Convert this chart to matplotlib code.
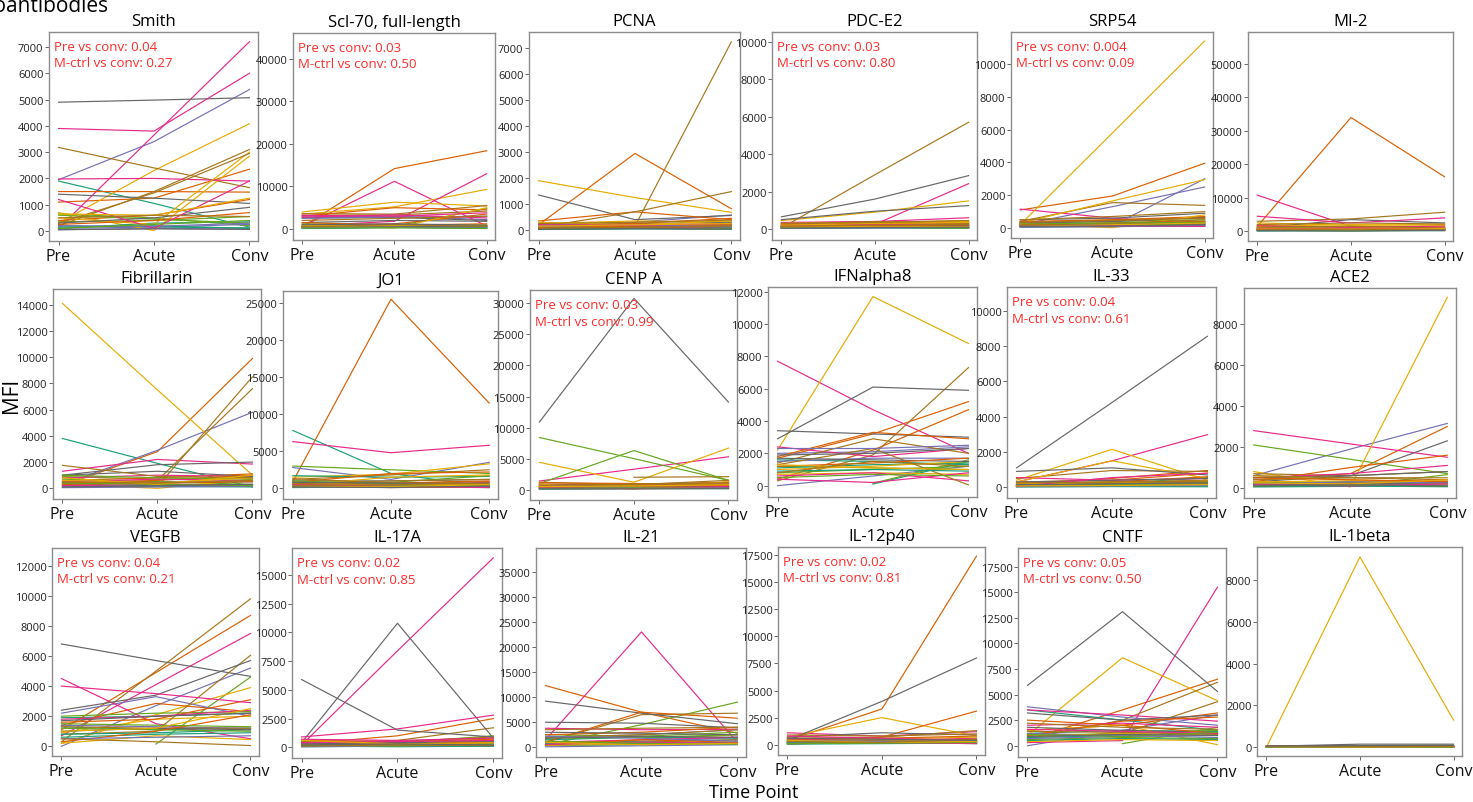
import numpy as np
import matplotlib.pyplot as plt

plt.rcParams['font.family'] = ['Open Sans', 'DejaVu Sans']

time_points = ['Pre', 'Acute', 'Conv']
nan = None

# one (Pre, Acute, Conv) triple per subject; rows of 8 follow the Dark2 order
smith = [
    (1900, 1050, 150), (1100, 1250, 2350), (1950, 3400, 5380), (100, 3650, 7200),
    (650, 500, 200), (300, 2300, 4080), (3180, 2400, 1650), (4900, 4980, 5070),
    (200, 150, 120), (1500, 1500, 1480), (100, 150, 250), (3900, 3800, 6000),
    (350, 400, 550), (700, 20, 2850), (200, 1500, 3100), (1400, 1250, 1050),
    (100, 300, 350), (400, 600, 1200), (50, 100, 80), (1980, 2000, 1900),
    (600, 450, 300), (500, 250, 3000), (300, 1450, 2950), (300, 500, 900),
    (150, 200, 100), (250, 400, 700), (200, 180, 300), (1200, 100, 1900),
    (100, 250, 400), (650, 600, 1250), (500, 600, 550), (50, 80, 60),
]
scl70 = [
    (300, 500, 400), (500, 14200, 18400), (2800, 3000, 2200), (600, 11200, 700),
    (400, 600, 4800), (3500, 5200, 9300), (3200, 3300, 4200), (2600, 2700, 2000),
    (600, 800, 600), (900, 1200, 3500), (2500, 2800, 3000), (700, 1800, 13000),
    (1200, 1000, 800), (4000, 6300, 5400), (3600, 3500, 5500), (1500, 2000, 1800),
    (200, 400, 300), (3000, 5000, 4500), (500, 700, 600), (2800, 3300, 2600),
    (800, 500, 400), (1000, 200, 5000), (2000, 2500, 3000), (400, 600, 500),
    (100, 300, 200), (1500, 900, 1200), (300, 400, 200), (3200, 3000, 3800),
    (200, 300, 100), (700, 800, 1000), (500, 1000, 600), (1000, 1200, 900),
]
pcna = [
    (50, 80, 60), (200, 2950, 820), (100, 300, 580), (30, 50, 40),
    (80, 100, 120), (1900, 1250, 680), (100, 150, 7250), (1350, 400, 560),
    (100, 120, 150), (350, 700, 400), (50, 80, 100), (150, 100, 200),
    (40, 60, 80), (250, 350, 300), (100, 700, 1480), (200, 250, 300),
    (60, 100, 80), (150, 250, 450), (200, 150, 250), (80, 120, 60),
    (120, 150, 200), (300, 200, 350), (250, 300, 380), (100, 120, 150),
    (20, 40, 30), (100, 150, 200), (150, 200, 120), (200, 180, 250),
    (60, 80, 50), (150, 200, 250), (50, 100, 150), (30, 60, 40),
]
pdc_e2 = [
    (100, 150, 100), (300, 400, 350), (200, 250, 300), (250, 250, 2420),
    (100, 200, 150), (450, 900, 1500), (50, 2900, 5700), (650, 1600, 2850),
    (50, 100, 80), (150, 350, 450), (100, 150, 200), (350, 400, 600),
    (200, 150, 250), (300, 350, 400), (250, 400, 300), (500, 950, 1250),
    (150, 120, 50), (200, 300, 250), (80, 100, 120), (150, 250, 200),
    (50, 80, 60), (200, 300, 350), (300, 350, 450), (100, 150, 200),
    (30, 50, 40), (100, 200, 150), (50, 60, 80), (120, 150, 100),
    (80, 100, 50), (100, 150, 120), (150, 200, 250), (50, 80, 100),
]
srp54 = [
    (100, 150, 200), (1100, 1950, 3950), (200, 1300, 2500), (1150, 600, 250),
    (300, 400, 500), (200, 5800, 11400), (400, 1550, 1380), (500, 600, 900),
    (200, 250, 300), (300, 500, 600), (100, 150, 3000), (200, 300, 250),
    (150, 200, 400), (300, 1650, 2950), (500, 700, 1000), (300, 400, 650),
    (50, 100, 150), (400, 500, 700), (150, 200, 300), (300, 250, 200),
    (100, 150, 250), (250, 20, 800), (200, 300, 500), (150, 200, 400),
    (80, 120, 100), (200, 300, 400), (50, 80, 150), (100, 150, 100),
    (250, 300, 350), (100, 200, 300), (350, 450, 600), (100, 120, 200),
]
mi2 = [
    (500, 300, 400), (1500, 34000, 16300), (800, 600, 500), (10800, 1500, 1000),
    (1200, 1000, 800), (2500, 1800, 2000), (3000, 3700, 5700), (1000, 3500, 2500),
    (300, 200, 300), (1800, 1200, 1500), (400, 500, 300), (4500, 2500, 4000),
    (700, 600, 500), (1500, 2000, 1800), (2000, 2500, 2200), (600, 700, 800),
    (200, 400, 300), (900, 700, 1000), (300, 200, 400), (1600, 1200, 1500),
    (500, 400, 600), (1000, 800, 1200), (1200, 1500, 1000), (400, 300, 500),
    (100, 150, 200), (600, 500, 700), (200, 300, 200), (800, 600, 900),
    (300, 200, 300), (700, 500, 800), (500, 600, 400), (200, 100, 300),
]
fibrillarin = [
    (3800, 1900, 100), (200, 2800, 9900), (300, 2900, 5800), (1300, 2200, 1850),
    (900, 700, 800), (14100, 7500, 1000), (100, 150, 8500), (1000, 1800, 2000),
    (500, 300, 200), (600, 800, 1100), (400, 500, 600), (800, 1000, 900),
    (700, 500, 300), (300, 0, 700), (100, 600, 7600), (1000, 1300, 900),
    (200, 150, 100), (400, 600, 1000), (150, 200, 300), (500, 700, 600),
    (1000, 800, 700), (600, 400, 800), (1750, 900, 800), (300, 400, 500),
    (100, 200, 150), (300, 400, 500), (50, 100, 150), (200, 300, 250),
    (400, 300, 200), (800, 300, 1000), (500, 400, 600), (100, 200, 300),
]
jo1 = [
    (7800, 2000, 200), (900, 25500, 11500), (2800, 1200, 3500), (6300, 4800, 5800),
    (3000, 2500, 2000), (1500, 1900, 3300), (1200, 1800, 2500), (1000, 1000, 1200),
    (1700, 1500, 1600), (800, 2000, 2200), (500, 600, 400), (300, 500, 800),
    (600, 800, 1700), (400, 1500, 1800), (1300, 700, 900), (400, 600, 300),
    (200, 400, 300), (500, 700, 1000), (300, 200, 500), (200, 400, 300),
    (1000, 600, 400), (700, 400, 600), (600, 1000, 1200), (800, 700, 600),
    (100, 200, 100), (300, 100, 200), (150, 300, 250), (500, 300, 100),
    (200, 300, 400), (300, 200, 500), (400, 500, 700), (200, 100, 300),
]
cenp_a = [
    (500, 400, 600), (800, 600, 1000), (300, 200, 400), (1400, 3300, 5300),
    (8400, 5000, 1500), (4400, 1200, 6700), (nan, 2000, 2100), (10900, 30800, 14100),
    (300, 500, 400), (600, 900, 1200), (500, 300, 600), (900, 700, 1100),
    (1000, 6300, 1500), (700, 500, 900), (1200, 800, 1500), (800, 600, 700),
    (200, 300, 200), (1100, 1000, 800), (100, 200, 300), (600, 500, 400),
    (400, 300, 500), (900, 100, 1300), (500, 700, 900), (300, 400, 500),
    (100, 200, 150), (400, 500, 700), (600, 400, 300), (300, 200, 500),
    (200, 300, 200), (500, 600, 800), (700, 900, 1100), (150, 100, 200),
]
ifnalpha8 = [
    (nan, 100, 1500), (1700, 3200, 5200), (0, 600, 1200), (7700, 4700, 2000),
    (1200, 1100, 1000), (2200, 11700, 8800), (300, 1900, 7300), (2900, 6100, 5900),
    (1100, 1300, 1400), (400, 2200, 4700), (2000, 2100, 2400), (2400, 1800, 2300),
    (nan, 150, 1600), (700, 800, 700), (1400, 2900, 2000), (3400, 3200, 3000),
    (1600, 1500, 1300), (1800, 3300, 2900), (1500, 1700, 1700), (600, 800, 300),
    (800, 1000, 1200), (1000, 1200, 1500), (1300, 2300, 50), (1700, 1600, 1500),
    (900, 1000, 900), (1200, 1400, 1700), (2300, 2300, 2500), (400, 200, 800),
    (500, 700, 600), (1300, 1100, 1000), (800, 1500, 1200), (1900, 2000, 2300),
]
il33 = [
    (100, 200, 550), (200, 500, 950), (50, 100, 200), (300, 1500, 2980),
    (150, 200, 300), (400, 2150, 400), (500, 950, 900), (1100, 4800, 8550),
    (50, 100, 150), (300, 400, 800), (100, 150, 100), (550, 400, 500),
    (200, 300, 250), (300, 1500, 500), (200, 300, 400), (900, 1100, 700),
    (80, 120, 100), (150, 300, 600), (30, 50, 80), (100, 200, 150),
    (50, 100, 80), (200, 250, 350), (100, 200, 300), (300, 400, 500),
    (20, 40, 30), (100, 150, 200), (60, 80, 100), (50, 550, 800),
    (120, 150, 200), (80, 100, 150), (250, 300, 350), (150, 200, 250),
]
ace2 = [
    (100, 150, 200), (400, 700, 3000), (600, 1900, 3150), (2800, 2150, 1500),
    (2100, 1400, 700), (800, 50, 9300), (700, 600, 800), (300, 600, 2300),
    (200, 250, 300), (300, 1000, 1600), (100, 150, 100), (500, 700, 1100),
    (150, 100, 650), (600, 400, 300), (400, 500, 400), (500, 600, 800),
    (50, 80, 100), (200, 300, 400), (300, 200, 150), (100, 200, 300),
    (250, 300, 200), (300, 350, 200), (200, 250, 300), (150, 200, 250),
    (80, 100, 60), (500, 400, 300), (200, 300, 250), (150, 100, 200),
    (100, 150, 100), (250, 200, 400), (600, 500, 500), (100, 150, 100),
]
vegfb = [
    (1900, 2000, 2200), (1100, 4900, 8700), (0, 2700, 5200), (700, 4100, 7500),
    (nan, 150, 4600), (200, 2100, 3900), (300, 5000, 9800), (6800, 5700, 4650),
    (1300, 1100, 1200), (1400, 2850, 2300), (2200, 3300, 2000), (4500, 1500, 500),
    (2000, 2200, 2300), (900, 1800, 2000), (800, 1000, 6050), (2400, 3400, 5700),
    (800, 900, 1100), (1600, 1800, 3100), (1400, 1300, 1200), (4000, 3500, 2900),
    (1200, 1100, 1000), (200, 700, 450), (1300, 1200, 1200), (1000, 1200, 1100),
    (600, 800, 900), (300, 1000, 2100), (500, 600, 700), (1800, 2000, 2400),
    (1500, 1400, 1300), (1000, 1200, 2500), (500, 300, 50), (1700, 2000, 2200),
]
il17a = [
    (100, 200, 300), (300, 1000, 2500), (200, 300, 400), (200, 8400, 16500),
    (500, 400, 1000), (300, 500, 800), (400, 600, 1700), (400, 10800, 800),
    (200, 300, 200), (600, 500, 700), (100, 200, 300), (900, 1600, 2800),
    (300, 400, 500), (100, 300, 200), (200, 500, 900), (5900, 1500, 900),
    (50, 100, 150), (400, 300, 500), (300, 200, 100), (700, 600, 800),
    (150, 200, 250), (200, 400, 300), (500, 400, 600), (300, 400, 500),
    (100, 50, 100), (200, 300, 400), (50, 100, 200), (400, 500, 600),
    (200, 100, 300), (600, 300, 400), (100, 200, 150), (200, 300, 200),
]
il21 = [
    (1000, 1200, 1500), (12300, 7000, 2800), (2000, 2500, 3500), (1500, 23000, 1000),
    (500, 4500, 9000), (800, 1500, 2500), (1000, 6500, 6800), (9200, 6800, 4700),
    (1500, 2000, 1800), (1000, 7000, 5800), (500, 1000, 2000), (3800, 3500, 3600),
    (2500, 2200, 3000), (600, 800, 1000), (2000, 2500, 3500), (5000, 4800, 3900),
    (300, 500, 800), (2500, 3000, 4000), (100, 300, 500), (1000, 1500, 2000),
    (1800, 2000, 2500), (400, 600, 900), (1200, 1000, 1500), (3000, 2800, 2500),
    (800, 700, 1000), (500, 1500, 1000), (2200, 1800, 1200), (600, 1000, 800),
    (1200, 800, 600), (1000, 500, 800), (3500, 3800, 4000), (1800, 2200, 2000),
]
il12p40 = [
    (100, 200, 300), (400, 3300, 17400), (300, 400, 500), (1100, 800, 1200),
    (200, 300, 400), (700, 2500, 800), (600, 700, 1300), (400, 4000, 8000),
    (300, 200, 100), (200, 700, 3100), (100, 150, 200), (500, 400, 600),
    (400, 300, 500), (300, 500, 700), (200, 400, 300), (700, 1100, 900),
    (50, 100, 150), (500, 600, 800), (400, 300, 200), (300, 200, 100),
    (150, 200, 250), (200, 300, 400), (900, 800, 1000), (100, 200, 300),
    (200, 300, 250), (100, 200, 300), (250, 300, 350), (800, 600, 400),
    (100, 150, 200), (400, 200, 300), (300, 200, 500), (600, 500, 400),
]
cntf = [
    (1200, 1500, 1400), (600, 3500, 6500), (0, 1500, 3000), (300, 500, 15500),
    (nan, 200, 1800), (1000, 8600, 4400), (700, 2500, 6200), (5900, 13100, 5300),
    (3500, 2500, 1500), (1500, 2000, 3200), (3800, 2800, 2000), (3500, 3000, 2400),
    (1000, 1200, 1500), (1500, 2000, 100), (800, 1200, 4300), (3200, 2500, 3000),
    (800, 1000, 1200), (1000, 2400, 2800), (1200, 1000, 800), (2000, 2200, 1800),
    (600, 800, 700), (900, 1200, 1000), (1400, 1300, 1100), (1800, 1500, 1300),
    (500, 700, 600), (2500, 2000, 1200), (700, 900, 1000), (1600, 1400, 1200),
    (1100, 900, 1300), (400, 600, 500), (2200, 1800, 1600), (900, 1100, 1000),
]
il1beta = [
    (20, 30, 20), (40, 30, 40), (10, 20, 10), (50, 40, 30),
    (30, 20, 30), (0, 9100, 1300), (60, 50, 40), (50, 150, 150),
    (10, 20, 30), (30, 40, 20), (20, 10, 20), (40, 30, 50),
    (10, 20, 10), (20, 30, 40), (30, 20, 30), (40, 60, 80),
    (15, 25, 20), (35, 30, 25), (25, 15, 30), (45, 35, 40),
    (20, 25, 15), (30, 20, 35), (50, 40, 45), (60, 80, 100),
]

titles = ['Smith', 'Scl-70, full-length', 'PCNA', 'PDC-E2', 'SRP54', 'MI-2',
          'Fibrillarin', 'JO1', 'CENP A', 'IFNalpha8', 'IL-33', 'ACE2',
          'VEGFB', 'IL-17A', 'IL-21', 'IL-12p40', 'CNTF', 'IL-1beta']
panels = [smith, scl70, pcna, pdc_e2, srp54, mi2,
          fibrillarin, jo1, cenp_a, ifnalpha8, il33, ace2,
          vegfb, il17a, il21, il12p40, cntf, il1beta]
p_pre_conv = {'Smith': '0.04', 'Scl-70, full-length': '0.03', 'PDC-E2': '0.03',
              'SRP54': '0.004', 'CENP A': '0.03', 'IL-33': '0.04', 'VEGFB': '0.04',
              'IL-17A': '0.02', 'IL-12p40': '0.02', 'CNTF': '0.05'}
p_ctrl_conv = {'Smith': '0.27', 'Scl-70, full-length': '0.50', 'PDC-E2': '0.80',
               'SRP54': '0.09', 'CENP A': '0.99', 'IL-33': '0.61', 'VEGFB': '0.21',
               'IL-17A': '0.85', 'IL-12p40': '0.81', 'CNTF': '0.50'}

# axes boxes in pixels (left, top, right, bottom) and y range (low, high, tick step)
boxes = [(49, 33, 258, 242), (293, 34, 495, 241), (529, 33, 740, 241),
         (772, 33, 977, 241), (1011, 33, 1213, 239), (1248, 33, 1453, 242),
         (53, 290, 261, 500), (283, 292, 498, 500), (530, 291, 737, 501),
         (768, 288, 977, 498), (1007, 288, 1216, 499), (1244, 289, 1456, 499),
         (52, 549, 259, 757), (292, 549, 502, 759), (536, 549, 746, 758),
         (778, 548, 985, 756), (1018, 549, 1226, 758), (1257, 548, 1462, 757)]
y_ranges = [(-380, 7570, 1000), (-2600, 46100, 10000), (-385, 7630, 1000),
            (-587, 10520, 2000), (-610, 11950, 2000), (-2900, 59560, 10000),
            (-816, 15200, 2000), (-1443, 26610, 5000), (-1660, 32150, 5000),
            (-700, 12290, 2000), (-606, 11340, 2000), (-488, 9756, 2000),
            (-645, 13180, 2000), (-931, 17350, 2500), (-1933, 39720, 5000),
            (-950, 18240, 2500), (-1105, 19330, 2500), (-416, 9577, 2000)]

W, H = 1473, 803
colors = plt.get_cmap('Dark2').colors
fig = plt.figure(figsize=(W / 100, H / 100), dpi=100)

for title, data, box, yr in zip(titles, panels, boxes, y_ranges):
    l, t, r, b = box
    ax = fig.add_axes([l / W, 1 - b / H, (r - l) / W, (b - t) / H])
    for i, subj in enumerate(data):
        ax.plot([0, 1, 2], np.array(subj, dtype=float), color=colors[i % 8], lw=0.85)
    ax.set_xlim(-0.1, 2.09)
    ax.set_ylim(yr[0], yr[1])
    ax.set_yticks(np.arange(0, yr[1], yr[2]))
    ax.set_xticks([0, 1, 2])
    ax.set_xticklabels(time_points, fontsize=11.5)
    ax.tick_params(axis='y', labelsize=8, length=3, width=0.7, pad=1,
                   color='#666666', labelcolor='#222222')
    ax.tick_params(axis='x', length=3, width=0.7, pad=2,
                   color='#666666', labelcolor='#111111')
    for s in ax.spines.values():
        s.set_color('#8c8c8c')
        s.set_linewidth(1.0)
    ax.set_title(title, fontsize=12, pad=5)
    if title in p_pre_conv:
        ax.text(0.025, 0.93, 'Pre vs conv: ' + p_pre_conv[title], transform=ax.transAxes,
                color='#ff2b2b', fontsize=9.5, va='center')
        ax.text(0.025, 0.852, 'M-ctrl vs conv: ' + p_ctrl_conv[title], transform=ax.transAxes,
                color='#ff2b2b', fontsize=9.5, va='center')

fig.text(12 / W, 1 - 395 / H, 'MFI', rotation=90, fontsize=15, ha='center', va='center')
fig.text(754 / W, 1 - 793 / H, 'Time Point', fontsize=13, ha='center', va='center')
fig.text(108 / W, 1 - 12 / H, 'Autoantibodies', fontsize=15, ha='right', va='baseline')

fig.savefig('out.png', dpi=100)
